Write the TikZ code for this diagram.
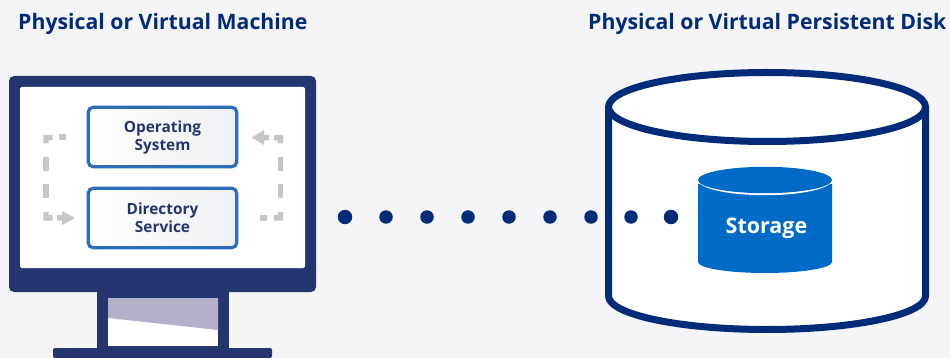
\documentclass[tikz,border=0pt]{standalone}
\usepackage{fontspec}
\setmainfont{Open Sans}
\definecolor{bgc}{HTML}{F5F5F8}
\definecolor{navy}{HTML}{25356F}
\definecolor{deep}{HTML}{002B78}
\definecolor{bluebox}{HTML}{2A6DBB}
\definecolor{boxend}{HTML}{EFF0F3}
\definecolor{stor}{HTML}{006BC6}
\definecolor{gry}{HTML}{C6C6C6}
\definecolor{lav}{HTML}{B3B1CA}
\tikzset{
  title/.style={font=\fontsize{21.25}{24}\selectfont\bfseries,text=deep,inner sep=0pt,anchor=base west},
  svcbox/.style={draw=bluebox,line width=3.2pt,rounded corners=5pt,left color=white,right color=boxend,
    minimum width=148.5pt,minimum height=59.5pt,inner sep=0pt},
  svctext/.style={inner sep=0pt,align=center,text=navy,font=\fontsize{15.4}{18.5}\selectfont\bfseries},
  gdash/.style={fill=gry,draw=none},
  dotc/.style={circle,fill=deep,draw=none,inner sep=0pt,minimum size=#1},
}
\begin{document}
\begin{tikzpicture}[x=1pt,y=-1pt]
\useasboundingbox (0,0) rectangle (950,358);
\fill[bgc] (0,0) rectangle (950,358);
\node[title] (t1) at (18,30) {Physical or Virtual Machine};
\node[title] (t2) at (588,30) {Physical or Virtual Persistent Disk};
% monitor
\fill[navy] (97,285) rectangle (229,350);
\fill[white] (108,298) rectangle (218,346);
\fill[lav] (108,298) -- (218,298) -- (218,330) -- (108,318) -- cycle;
\fill[navy,rounded corners=2pt] (53,348) -- (272,348) -- (272,358) -- (53,358) -- cycle;
\fill[navy,rounded corners=5pt] (9,76) rectangle (316,292);
\fill[white,rounded corners=2pt] (20,87) rectangle (305,268);
\node[svcbox] (os) at (162.5,137) {};
\node[svcbox] (ds) at (162.5,218) {};
\node[svctext] (ostext) at (162.5,137.5) {Operating\\System};
\node[svctext] (dstext) at (162.5,217.5) {Directory\\Service};
% left dashed loop
\fill[gdash] (59.3,134.5) rectangle (66,140.3);
\fill[gdash] (43.3,135) -- (52.7,135) -- (52.7,140.5) -- (48.7,140.5) -- (48.7,143.3) -- (43.3,143.3) -- cycle;
\fill[gdash] (43.3,157.3) rectangle (48.7,171);
\fill[gdash] (43.3,184.3) rectangle (48.7,198);
\fill[gdash] (43.3,212) -- (48.7,212) -- (48.7,215.2) -- (52.7,215.2) -- (52.7,220.7) -- (43.3,220.7) -- cycle;
\fill[gdash] (57,215.2) -- (62,215.2) -- (62,211) -- (75,218) -- (62,225) -- (62,220.7) -- (57,220.7) -- cycle;
% right dashed loop
\fill[gdash] (269,135) -- (264,135) -- (264,130) -- (251.5,137.5) -- (264,145) -- (264,140.5) -- (269,140.5) -- cycle;
\fill[gdash] (274,135) -- (283,135) -- (283,143.3) -- (277.7,143.3) -- (277.7,140.5) -- (274,140.5) -- cycle;
\fill[gdash] (277.7,157.3) rectangle (283,171);
\fill[gdash] (277.7,184.3) rectangle (283,198);
\fill[gdash] (277.7,212) -- (283,212) -- (283,220.7) -- (274,220.7) -- (274,215.2) -- (277.7,215.2) -- cycle;
\fill[gdash] (260,215.2) rectangle (267.3,220.7);
% big cylinder
\filldraw[fill=white,draw=deep,line width=7pt,line join=round]
  (608.5,107) -- (608.5,296) arc[start angle=180,end angle=360,x radius=158.5,y radius=-33.5] -- (925.5,107);
\filldraw[fill=white,draw=deep,line width=7pt] (767,107) ellipse[x radius=158.5,y radius=34.5];
% small cylinder
\fill[stor] (698,184) -- (698,262) arc[start angle=180,end angle=360,x radius=67,y radius=-11] -- (832,184) -- cycle;
\fill[white] (698,180) arc[start angle=180,end angle=360,x radius=67,y radius=-15.2] -- (832,184) -- (698,184) -- cycle;
\fill[stor] (765,180) ellipse[x radius=67,y radius=13.2];
\node[font=\fontsize{21.5}{26}\selectfont\bfseries,text=white,inner sep=0pt] (st) at (766.5,228) {Storage};
% dots
\foreach \n/\x/\s in {a/345/14.5,b/386/13.5,c/427/13.5,d/468/13.5,e/509/13.5,f/550/13.5,g/591/13.5,h/631/13.5,i/671/14.5}
  \node[dotc=\s pt] (dot\n) at (\x,217) {};
\end{tikzpicture}
\end{document}
